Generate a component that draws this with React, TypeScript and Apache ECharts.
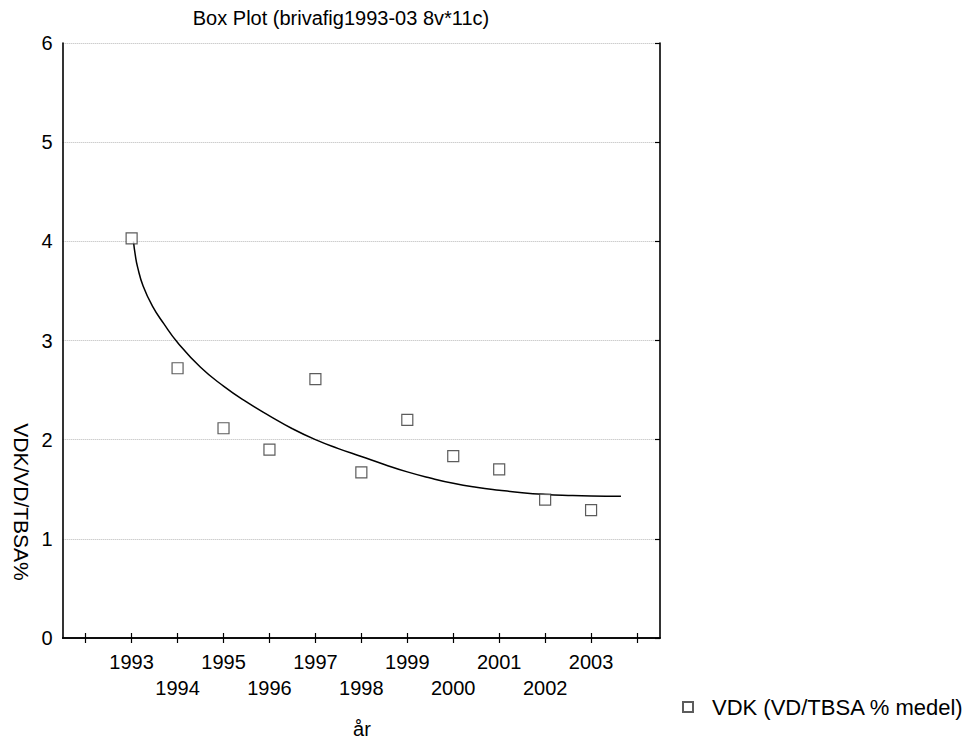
import React, { useEffect, useRef } from "react";
import * as echarts from "echarts";

const years = [1993, 1994, 1995, 1996, 1997, 1998, 1999, 2000, 2001, 2002, 2003];
const vdkValues = [4.03, 2.72, 2.115, 1.9, 2.61, 1.67, 2.2, 1.835, 1.7, 1.395, 1.29];
const fitX = [1993.04, 1993.08, 1993.13, 1993.25, 1993.45, 1993.7, 1994, 1994.5, 1995, 1995.5, 1996, 1996.5, 1997, 1997.5, 1998, 1998.5, 1999, 1999.5, 2000, 2000.5, 2001, 2001.5, 2002, 2002.5, 2003, 2003.65];
const fitY = [4.0, 3.86, 3.74, 3.55, 3.35, 3.17, 2.98, 2.73, 2.54, 2.38, 2.24, 2.11, 2.0, 1.91, 1.83, 1.75, 1.675, 1.613, 1.56, 1.52, 1.49, 1.465, 1.448, 1.438, 1.432, 1.43];
const xTickValues = [1992, 1993, 1994, 1995, 1996, 1997, 1998, 1999, 2000, 2001, 2002, 2003, 2004];
const yTicks = [0, 1, 2, 3, 4, 5, 6];

const chartTitle = "Box Plot (brivafig1993-03 8v*11c)";
const xName = "år";
const yName = "VDK/VD/TBSA%";
const seriesName = "VDK (VD/TBSA % medel)";

const FONT = "'Liberation Sans', Arial, sans-serif";

export default function App() {
  const ref = useRef<HTMLDivElement>(null);
  useEffect(() => {
    if (!ref.current) return;
    const chart = echarts.init(ref.current, undefined, { renderer: "svg" });
    const axisLine = { show: true, lineStyle: { color: "#000", width: 1.6 } };
    chart.setOption({
      animation: false,
      backgroundColor: "#fff",
      textStyle: { fontFamily: FONT, color: "#000" },
      grid: { left: 62.7, right: 315, top: 43, bottom: 103, containLabel: false },
      graphic: [
        {
          type: "text",
          x: 341,
          y: 18,
          style: { text: chartTitle, font: `20px ${FONT}`, fill: "#000", textAlign: "center", textVerticalAlign: "middle" },
        },
        {
          type: "text",
          x: 362,
          y: 729,
          style: { text: xName, font: `20px ${FONT}`, fill: "#000", textAlign: "center", textVerticalAlign: "middle" },
        },
        {
          type: "text",
          x: 21,
          y: 502,
          rotation: -Math.PI / 2,
          style: { text: yName, font: `21px ${FONT}`, fill: "#000", textAlign: "center", textVerticalAlign: "middle" },
        },
      ],
      legend: {
        data: [{ name: seriesName, icon: "rect" }],
        left: 677,
        top: 691,
        itemWidth: 10,
        itemHeight: 10,
        itemGap: 20,
        textStyle: { fontSize: 22, fontFamily: FONT, color: "#000", padding: [0, 0, 0, 14] },
      },
      xAxis: [
        {
          type: "value",
          min: 1991.5,
          max: 2004.5,
          position: "bottom",
          axisLine,
          splitLine: { show: false },
          axisTick: { show: true, inside: true, length: 5, customValues: xTickValues, lineStyle: { color: "#000", width: 1.2 } },
          axisLabel: {
            customValues: years,
            fontSize: 20,
            fontFamily: FONT,
            color: "#000",
            margin: 11,
            lineHeight: 26,
            formatter: (v: number) => (v % 2 === 0 ? "\n" + v : String(v)),
          },
        },
        {
          type: "value",
          min: 1991.5,
          max: 2004.5,
          position: "top",
          axisLine,
          splitLine: { show: false },
          axisTick: { show: true, inside: true, length: 5, customValues: xTickValues, lineStyle: { color: "#000", width: 1.2 } },
          axisLabel: { show: false },
        },
      ],
      yAxis: [
        {
          type: "value",
          min: 0,
          max: 6,
          interval: 1,
          position: "left",
          axisLine,
          axisTick: { show: false },
          axisLabel: { fontSize: 20, fontFamily: FONT, color: "#000", margin: 10 },
          splitLine: { show: true, lineStyle: { color: "#b8b8b8", type: [1, 1], width: 1 } },
        },
        {
          type: "value",
          min: 0,
          max: 6,
          interval: 1,
          position: "right",
          axisLine,
          axisTick: { show: true, inside: true, length: 5, customValues: yTicks, lineStyle: { color: "#000", width: 1.2 } },
          axisLabel: { show: false },
          splitLine: { show: false },
        },
      ],
      series: [
        {
          name: "fit",
          type: "line",
          xAxisIndex: 0,
          yAxisIndex: 0,
          data: fitX.map((x, i) => [x, fitY[i]]),
          smooth: 0.5,
          showSymbol: false,
          symbol: "none",
          lineStyle: { color: "#000", width: 1.5 },
          z: 3,
        },
        {
          name: seriesName,
          type: "scatter",
          xAxisIndex: 0,
          yAxisIndex: 0,
          data: years.map((y, i) => [y, vdkValues[i]]),
          symbol: "rect",
          symbolSize: 11,
          itemStyle: { color: "#fff", borderColor: "#333", borderWidth: 1.2 },
          z: 4,
        },
      ],
    });
    return () => chart.dispose();
  }, []);
  return (
    <div
      ref={ref}
      style={{ position: "absolute", left: 0, top: 0, width: 975, height: 741, background: "#fff" }}
    />
  );
}
